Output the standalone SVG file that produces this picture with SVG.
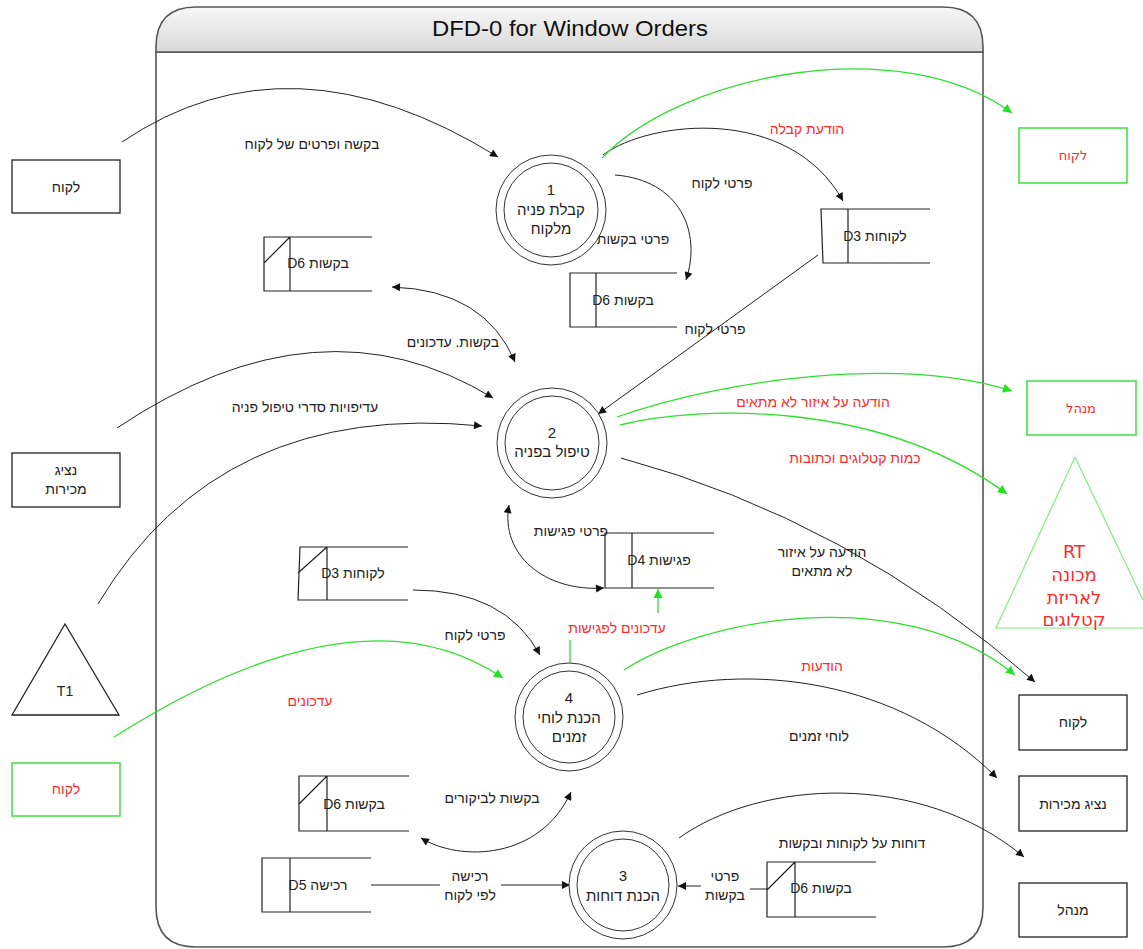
<svg xmlns="http://www.w3.org/2000/svg" width="1143" height="949" viewBox="0 0 1143 949">
<defs>
<linearGradient id="hdr" x1="0" y1="0" x2="0" y2="1">
<stop offset="0" stop-color="#f6f6f6"/>
<stop offset="1" stop-color="#d9d9d9"/>
</linearGradient>
<marker id="ab" viewBox="0 0 10 10" refX="10" refY="5" markerWidth="11" markerHeight="8" markerUnits="userSpaceOnUse" orient="auto-start-reverse"><path d="M0,0 L10,5 L0,10 z" fill="#111"/></marker>
<marker id="ag" viewBox="0 0 10 10" refX="10" refY="5" markerWidth="11" markerHeight="9" markerUnits="userSpaceOnUse" orient="auto-start-reverse"><path d="M0,0 L10,5 L0,10 z" fill="#22e022"/></marker>
<style>
text{font-family:"Liberation Sans",Arial,sans-serif;font-size:14px;fill:#222;text-anchor:middle}
.red{fill:#ff2a2a}
.dj{font-family:"DejaVu Sans","Liberation Sans",sans-serif}
.ent{fill:#fff;stroke:#222;stroke-width:1.3}
.entg{fill:#fff;stroke:#3ee03e;stroke-width:1.5}
.po{fill:#fff;stroke:#333;stroke-width:1}
.pi{fill:none;stroke:#333;stroke-width:1}
.ds{fill:none;stroke:#222;stroke-width:1.2}
.c{fill:none;stroke:#222;stroke-width:1}
.g{fill:none;stroke:#2ee02e;stroke-width:1.3}
</style>
</defs>
<rect width="1143" height="949" fill="#fff"/>

<g id="frame">
<path d="M156,52 L156,907 Q156,947 196,947 L943,947 Q983,947 983,907 L983,52 Z" fill="#fff" stroke="#555" stroke-width="1.6"/>
<path d="M156,52 L156,47 Q156,7 196,7 L943,7 Q983,7 983,47 L983,52 Z" fill="url(#hdr)" stroke="#555" stroke-width="1.6"/>
<text x="570" y="36" style="font-size:22px;fill:#111" textLength="276" lengthAdjust="spacingAndGlyphs">DFD-0 for Window Orders</text>
</g>

<g id="connectors">
<path class="c" d="M122,142 Q290,28 498,157" marker-end="url(#ab)"/>
<path class="c" d="M603,155 C650,120 790,105 843,201" marker-end="url(#ab)"/>
<path class="c" d="M615,175 C680,180 702,232 686,280" marker-end="url(#ab)"/>
<path class="g" d="M602,158 C680,75 900,30 1012,113" marker-end="url(#ag)"/>
<path class="c" d="M818,255 L598,414" marker-end="url(#ab)"/>
<path class="c" d="M392,287 Q485,290 515,362" marker-start="url(#ab)" marker-end="url(#ab)"/>
<path class="c" d="M117,428 Q320,292 493,398" marker-end="url(#ab)"/>
<path class="c" d="M98,604 Q220,400 482,426" marker-end="url(#ab)"/>
<path class="c" d="M509,505 C500,555 545,592 604,588" marker-start="url(#ab)" marker-end="url(#ab)"/>
<path class="g" d="M617,417 C720,380 900,355 1012,391" marker-end="url(#ag)"/>
<path class="g" d="M620,425 C700,405 880,400 1007,494" marker-end="url(#ag)"/>
<path class="c" d="M621,458 Q850,520 1035,682" marker-end="url(#ab)"/>
<path class="c" d="M413,590 Q505,590 540,655" marker-end="url(#ab)"/>
<path class="g" d="M114,737 Q360,581 503,678" marker-end="url(#ag)"/>
<path class="g" d="M570,663 L570,640"/>
<path class="g" d="M658,613 L658,589" marker-end="url(#ag)"/>
<path class="g" d="M624,670 C700,620 900,580 1015,675" marker-end="url(#ag)"/>
<path class="c" d="M637,695 C750,660 900,680 997,778" marker-end="url(#ab)"/>
<path class="c" d="M679,838 C760,780 920,770 1024,857" marker-end="url(#ab)"/>
<path class="c" d="M421,838 C460,862 540,860 571,792" marker-start="url(#ab)" marker-end="url(#ab)"/>
<path class="c" d="M371,885 L440,885"/>
<path class="c" d="M501,885 L570,885" marker-end="url(#ab)"/>
<path class="c" d="M767,889 L750,889"/>
<path class="c" d="M701,886 L678,886" marker-end="url(#ab)"/>
<text x="312" y="149">בקשה ופרטים של לקוח</text>
<text x="722" y="188">פרטי לקוח</text>
<text x="807" y="134" class="red">הודעת קבלה</text>
<text x="633" y="244">פרטי בקשות</text>
<text x="715" y="334">פרטי לקוח</text>
<text x="453" y="347">בקשות. עדכונים</text>
<text x="305" y="412">עדיפויות סדרי טיפול פניה</text>
<text x="813" y="407" class="red">הודעה על איזור לא מתאים</text>
<text x="855" y="463" class="red">כמות קטלוגים וכתובות</text>
<text x="571" y="536">פרטי פגישות</text>
<text x="822" y="557">הודעה על איזור</text>
<text x="822" y="576">לא מתאים</text>
<text x="617" y="633" class="red">עדכונים לפגישות</text>
<text x="475" y="640">פרטי לקוח</text>
<text x="310" y="706" class="red">עדכונים</text>
<text x="822" y="671" class="red">הודעות</text>
<text x="819" y="741">לוחי זמנים</text>
<text x="492" y="803">בקשות לביקורים</text>
<text x="852" y="848">דוחות על לקוחות ובקשות</text>
<text x="470" y="881">רכישה</text>
<text x="470" y="900">לפי לקוח</text>
<text x="725" y="881">פרטי</text>
<text x="725" y="900">בקשות</text>
</g>

<g id="ext-customer-left">
<rect class="ent" x="12" y="160" width="108" height="53"/>
<text x="66" y="192">לקוח</text>
</g>
<g id="ext-sales-left">
<rect class="ent" x="12" y="453" width="108" height="54"/>
<text x="66" y="475">נציג</text>
<text x="66" y="494">מכירות</text>
</g>
<g id="ext-t1">
<path d="M65,624 L119,715 L12,715 Z" fill="#fff" stroke="#222" stroke-width="1.3"/>
<text x="65" y="696">T1</text>
</g>
<g id="ext-customer-left-green">
<rect class="entg" x="12" y="763" width="108" height="53"/>
<text x="66" y="794" class="red">לקוח</text>
</g>

<g id="ext-customer-right-green">
<rect class="entg" x="1019" y="128" width="108" height="55"/>
<text x="1073" y="160" class="red dj" style="font-size:13px">לקוח</text>
</g>
<g id="ext-manager-right-green">
<rect class="entg" x="1027" y="381" width="109" height="54"/>
<text x="1081" y="413" class="red dj" style="font-size:13px">מנהל</text>
</g>
<g id="ext-rt">
<path d="M1075,457 L1143,600 M1143,628 L996,628 L1075,457" fill="none" stroke="#7ef07e" stroke-width="1.2"/>
<text x="1074" y="558" class="red dj" style="font-size:18px">RT</text>
<text x="1074" y="581" class="red dj" style="font-size:18px">מכונה</text>
<text x="1074" y="604" class="red dj" style="font-size:18px">לאריזת</text>
<text x="1074" y="626" class="red dj" style="font-size:18px">קטלוגים</text>
</g>
<g id="ext-customer-right">
<rect class="ent" x="1019" y="695" width="108" height="55"/>
<text x="1073" y="727">לקוח</text>
</g>
<g id="ext-sales-right">
<rect class="ent" x="1019" y="776" width="108" height="55"/>
<text x="1073" y="809">נציג מכירות</text>
</g>
<g id="ext-manager-right">
<rect class="ent" x="1019" y="883" width="108" height="54"/>
<text x="1073" y="915">מנהל</text>
</g>

<g id="p1">
<circle class="po" cx="551" cy="210" r="55"/>
<circle class="pi" cx="551" cy="210" r="47"/>
<text x="551" y="195" style="font-size:15px">1</text>
<text x="551" y="215" style="font-size:15px">קבלת פניה</text>
<text x="551" y="234" style="font-size:15px">מלקוח</text>
</g>
<g id="p2">
<circle class="po" cx="552" cy="443" r="55"/>
<circle class="pi" cx="552" cy="443" r="47"/>
<text x="552" y="438" style="font-size:15px">2</text>
<text x="552" y="457" style="font-size:15px">טיפול בפניה</text>
</g>
<g id="p4">
<circle class="po" cx="569" cy="717" r="54"/>
<circle class="pi" cx="569" cy="717" r="46"/>
<text x="569" y="703" style="font-size:15px">4</text>
<text x="569" y="723" style="font-size:15px">הכנת לוחי</text>
<text x="569" y="742" style="font-size:15px">זמנים</text>
</g>
<g id="p3">
<circle class="po" cx="623" cy="885" r="54"/>
<circle class="pi" cx="623" cy="885" r="46"/>
<text x="623" y="881" style="font-size:15px">3</text>
<text x="623" y="901" style="font-size:15px">הכנת דוחות</text>
</g>

<g id="ds-d6-top-left">
<path class="ds" d="M372,237 L264,237 L264,291 L372,291 M290,237 L290,291 M264,263 L290,237"/>
<text x="318" y="268">D6 בקשות</text>
</g>
<g id="ds-d6-mid">
<path class="ds" d="M677,273 L570,273 L570,327 L677,327 M596,273 L596,327"/>
<text x="623" y="305">D6 בקשות</text>
</g>
<g id="ds-d3-top">
<path class="ds" d="M930,209 L821,209 L823,263 L930,263 M848,209 L848,263"/>
<text x="875" y="241">D3 לקוחות</text>
</g>
<g id="ds-d3-left">
<path class="ds" d="M408,547 L300,547 L298,600 L408,600 M327,547 L327,600 M298,573 L327,547"/>
<text x="353" y="578">D3 לקוחות</text>
</g>
<g id="ds-d4">
<path class="ds" d="M714,533 L605,533 L605,588 L714,588 M632,533 L632,588"/>
<text x="659" y="565">D4 פגישות</text>
</g>
<g id="ds-d6-bottom-left">
<path class="ds" d="M409,776 L299,776 L299,831 L409,831 M327,776 L327,831 M299,804 L327,776"/>
<text x="354" y="809">D6 בקשות</text>
</g>
<g id="ds-d5">
<path class="ds" d="M371,858 L262,858 L262,912 L371,912 M290,858 L290,912"/>
<text x="318" y="890">D5 רכישה</text>
</g>
<g id="ds-d6-bottom-right">
<path class="ds" d="M876,862 L767,862 L767,917 L876,917 M795,862 L795,917 M767,890 L795,862"/>
<text x="821" y="893">D6 בקשות</text>
</g>
</svg>
